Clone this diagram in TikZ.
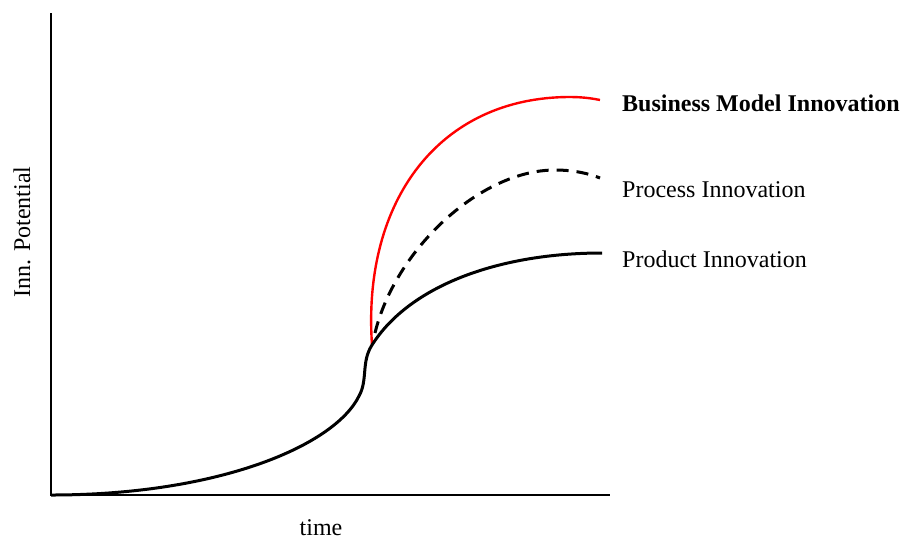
\documentclass[tikz,border=0pt]{standalone}
\usepackage{fontspec}
\setmainfont{Liberation Serif}
\usetikzlibrary{positioning}

\begin{document}
\begin{tikzpicture}[
	x=1pt,y=-1pt,
	myaxis/.style={line width=2.7pt},
	mycurve/.style={line width=3pt},
	mytext/.style={inner sep=0pt,font=\fontsize{24}{28}\selectfont}
	]
	\useasboundingbox (0,0) rectangle (901,542);
	\coordinate (top) at (51,13);
	\coordinate (origin) at (51,495);
	\coordinate (right) at (610,495);
	\draw[myaxis] (top) -- (origin) -- (right);
	\coordinate (bend) at (359,396);
	\coordinate (jump) at (372,345);
	\coordinate (prodend) at (602,253);
	\coordinate (procstart) at (375,333);
	\coordinate (procend) at (600,178);
	\coordinate (bmend) at (600,100);
	\draw[mycurve,red,line width=2.4pt] (jump) .. controls (362,200) and (440,97) .. (570,97)
		.. controls (585,97) and (595,99) .. (bmend);
	\draw[mycurve,dash pattern=on 12pt off 8pt] (procstart) .. controls (395,250) and (480,170) .. (555,170)
		.. controls (575,170) and (590,174) .. (procend);
	\draw[mycurve] (origin) .. controls (220,495) and (335,445) .. (bend)
		.. controls (368,380) and (361,362) .. (jump)
		.. controls (410,285) and (500,253) .. (prodend);
	\node[mytext,anchor=west,font=\fontsize{24}{28}\selectfont\bfseries] (bm) at (622,103) {Business Model Innovation};
	\node[mytext,anchor=west] (proc) at (622,190) {Process Innovation};
	\node[mytext,anchor=west] (prod) at (622,259) {Product Innovation};
	\node[mytext] (time) at (321,528) {time};
	\node[mytext,rotate=90] (pot) at (22,232) {Inn. Potential};
\end{tikzpicture}
\end{document}
